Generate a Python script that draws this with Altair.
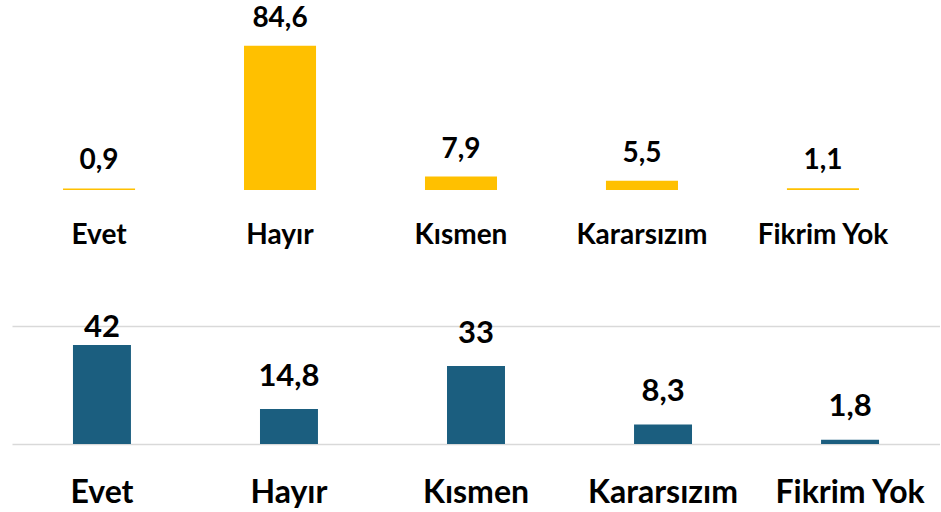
import altair as alt
import pandas as pd

categories = ["Evet", "Hayır", "Kısmen", "Kararsızım", "Fikrim Yok"]
top_values = [0.9, 84.6, 7.9, 5.5, 1.1]
top_labels = ["0,9", "84,6", "7,9", "5,5", "1,1"]
bottom_values = [42, 14.8, 33, 8.3, 1.8]
bottom_labels = ["42", "14,8", "33", "8,3", "1,8"]

FONT = "Lato"
YELLOW = "#FFC000"
BLUE = "#1B5E7F"

top_df = pd.DataFrame({"cat": categories, "v": top_values, "lab": top_labels})
bot_df = pd.DataFrame({"cat": categories, "v": bottom_values, "lab": bottom_labels})

# ---- top panel ----
top_x = alt.X(
    "cat:N", sort=categories,
    scale=alt.Scale(paddingInner=0.602, paddingOuter=0.282),
    axis=alt.Axis(title=None, domain=False, ticks=False, labelAngle=0,
                  labelFont=FONT, labelFontSize=28, labelFontWeight="bold",
                  labelColor="black", labelPadding=31),
)
top_y = alt.Y("v:Q", scale=alt.Scale(domain=[0, 108]), axis=None)

top_bars = alt.Chart(top_df).mark_bar(color=YELLOW).encode(x=top_x, y=top_y)
top_text = alt.Chart(top_df).mark_text(
    font=FONT, fontSize=28, fontWeight="bold", color="black",
    baseline="middle", dy=-27,
).encode(x=top_x, y=top_y, text="lab:N")
top = (top_bars + top_text).properties(width=898, height=184)

# ---- bottom panel ----
bot_x = alt.X(
    "cat:N", sort=categories,
    scale=alt.Scale(paddingInner=0.69, paddingOuter=0.326),
    axis=alt.Axis(title=None, domain=False, ticks=False, labelAngle=0,
                  labelFont=FONT, labelFontSize=32, labelFontWeight="bold",
                  labelColor="black", labelPadding=33),
)
bot_y = alt.Y(
    "v:Q", scale=alt.Scale(domain=[0, 50]),
    axis=alt.Axis(title=None, labels=False, ticks=False, domain=False,
                  grid=True, values=[0, 50], gridColor="#D9D9D9", gridWidth=1.5),
)
bot_bars = alt.Chart(bot_df).mark_bar(color=BLUE).encode(x=bot_x, y=bot_y)
bot_text = alt.Chart(bot_df).transform_calculate(
    ly="min(datum.v + 13.7, 49.1)"
).mark_text(
    font=FONT, fontSize=31, fontWeight="bold", color="black", baseline="middle",
).encode(x=bot_x, y=alt.Y("ly:Q", scale=alt.Scale(domain=[0, 50])), text="lab:N")
bottom = (bot_bars + bot_text).properties(width=928, height=118)

chart = alt.vconcat(top, bottom, spacing=63).properties(
    padding={"left": 12, "top": 4, "right": 0, "bottom": 0}
).configure_view(stroke=None)

chart.save("out.html", embed_options={"renderer": "svg", "actions": False})
